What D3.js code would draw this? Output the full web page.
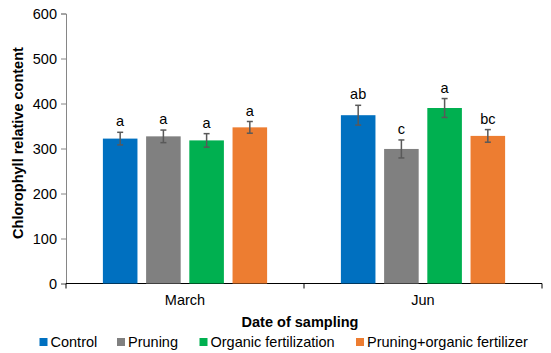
<!DOCTYPE html>
<html>
<head>
<meta charset="utf-8">
<script src="https://cdn.jsdelivr.net/npm/d3@7"></script>
<style>
  body { margin: 0; background: #fff; }
  text { font-family: Arial, "Liberation Sans", sans-serif; }
</style>
</head>
<body>
<div id="chart"></div>
<script>
// data
const months = ["March", "Jun"];
const treatments = ["Control", "Pruning", "Organic fertilization", "Pruning+organic fertilizer"];
const colors = ["#0070C0", "#808080", "#00B050", "#ED7D31"];
const means = [
    [322, 327, 318, 347],
    [374, 299, 390, 328]
];
const errors = [
    [14, 14, 15, 13],
    [22, 20, 21, 14]
];
const letters = [
    ["a", "a", "a", "a"],
    ["ab", "c", "a", "bc"]
];
const yTicks = [0, 100, 200, 300, 400, 500, 600];

const width = 551, height = 353;
const margin = { top: 13.5, right: 9, bottom: 69.5, left: 66 };
const plotW = width - margin.left - margin.right;
const plotH = height - margin.top - margin.bottom;

const svg = d3.select('#chart').append('svg')
    .attr('width', width)
    .attr('height', height);

const plot = svg.append('g')
    .attr('transform', `translate(${margin.left},${margin.top})`);

// scales
const x0 = d3.scaleBand().domain(months).range([0, plotW]);
const x1 = d3.scaleBand().domain(treatments)
    .range([0, x0.bandwidth() * 0.69])
    .paddingInner(0.2);
const y = d3.scaleLinear().domain([0, 600]).range([plotH, 0]);
const groupOffset = x0.bandwidth() * (1 - 0.69) / 2;

// y axis
const yAxis = plot.append('g')
    .call(d3.axisLeft(y).tickValues(yTicks).tickSize(5).tickPadding(4));
yAxis.select('.domain').attr('stroke', '#868686');
yAxis.selectAll('.tick line').attr('stroke', '#868686');
yAxis.selectAll('.tick text')
    .style('font-size', '14.5px')
    .attr('fill', '#000');

// x axis with ticks at band boundaries
const xAxis = plot.append('g')
    .attr('transform', `translate(0,${plotH})`);
xAxis.append('line')
    .attr('x1', 0).attr('x2', plotW)
    .attr('stroke', '#000').attr('stroke-width', 1.2);
xAxis.selectAll('line.tk')
    .data([0, x0.bandwidth(), plotW])
    .enter().append('line')
    .attr('class', 'tk')
    .attr('x1', d => d).attr('x2', d => d)
    .attr('y1', 0).attr('y2', 5)
    .attr('stroke', '#000');
xAxis.selectAll('text.month')
    .data(months)
    .enter().append('text')
    .attr('class', 'month')
    .attr('x', d => x0(d) + x0.bandwidth() / 2)
    .attr('y', 21.5)
    .attr('text-anchor', 'middle')
    .style('font-size', '14.5px')
    .text(d => d);

// bars
const groups = plot.selectAll('g.month')
    .data(months)
    .enter().append('g')
    .attr('class', 'month')
    .attr('transform', d => `translate(${x0(d) + groupOffset},0)`);

groups.each(function (m, mi) {
    const g = d3.select(this);
    const rows = treatments.map((t, ti) => ({
        t: t, v: means[mi][ti], e: errors[mi][ti], l: letters[mi][ti], c: colors[ti]
    }));

    g.selectAll('rect')
        .data(rows)
        .enter().append('rect')
        .attr('x', d => x1(d.t))
        .attr('y', d => y(d.v))
        .attr('width', x1.bandwidth())
        .attr('height', d => plotH - y(d.v))
        .attr('fill', d => d.c);

    // error bars
    const eb = g.selectAll('g.err')
        .data(rows)
        .enter().append('g')
        .attr('class', 'err')
        .attr('stroke', '#595959')
        .attr('stroke-width', 1.5);
    eb.append('line')
        .attr('x1', d => x1(d.t) + x1.bandwidth() / 2)
        .attr('x2', d => x1(d.t) + x1.bandwidth() / 2)
        .attr('y1', d => y(d.v + d.e))
        .attr('y2', d => y(d.v - d.e));
    eb.selectAll('line.cap')
        .data(d => [[d, d.v + d.e], [d, d.v - d.e]])
        .enter().append('line')
        .attr('class', 'cap')
        .attr('x1', d => x1(d[0].t) + x1.bandwidth() / 2 - 3)
        .attr('x2', d => x1(d[0].t) + x1.bandwidth() / 2 + 3)
        .attr('y1', d => y(d[1]))
        .attr('y2', d => y(d[1]));

    // significance letters
    g.selectAll('text.sig')
        .data(rows)
        .enter().append('text')
        .attr('class', 'sig')
        .attr('x', d => x1(d.t) + x1.bandwidth() / 2)
        .attr('y', d => y(d.v + d.e) - 6)
        .attr('text-anchor', 'middle')
        .style('font-size', '14.5px')
        .text(d => d.l);
});

// axis titles
svg.append('text')
    .attr('x', 300)
    .attr('y', 326.5)
    .attr('text-anchor', 'middle')
    .style('font-size', '14.5px')
    .style('font-weight', 'bold')
    .text('Date of sampling');

svg.append('text')
    .attr('transform', 'translate(23,143) rotate(-90)')
    .attr('text-anchor', 'middle')
    .style('font-size', '14.5px')
    .style('font-weight', 'bold')
    .text('Chlorophyll relative content');

// legend
const legendX = [39.5, 117, 199.5, 356];
const legend = svg.selectAll('g.legend')
    .data(treatments)
    .enter().append('g')
    .attr('class', 'legend')
    .attr('transform', (d, i) => `translate(${legendX[i]},338)`);
legend.append('rect')
    .attr('width', 8).attr('height', 8)
    .attr('fill', (d, i) => colors[i]);
legend.append('text')
    .attr('x', 11)
    .attr('y', 9)
    .style('font-size', '14.5px')
    .text(d => d);
</script>
</body>
</html>
